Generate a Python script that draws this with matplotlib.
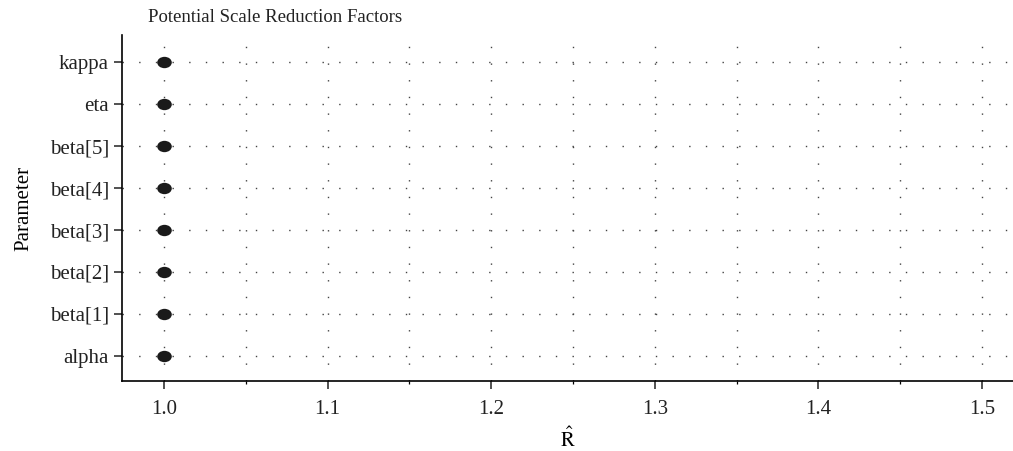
import numpy as np
import matplotlib.pyplot as plt
from matplotlib.path import Path
from matplotlib.ticker import MultipleLocator

# parameter names and their potential scale reduction factors
params = ["alpha", "beta[1]", "beta[2]", "beta[3]", "beta[4]", "beta[5]", "eta", "kappa"]
rhat = [1.000, 1.000, 1.000, 1.000, 1.000, 1.000, 1.000, 1.000]

plt.rcParams['font.family'] = ['Liberation Serif', 'DejaVu Serif']
plt.rcParams['mathtext.fontset'] = 'stix'

fig = plt.figure(figsize=(10.13, 4.51), dpi=100)
ax = fig.add_axes([122/1013, 70/451, 891/1013, 346/451])

ypos = np.arange(len(params))

# dotted reference grid
ax.xaxis.set_major_locator(MultipleLocator(0.1))
ax.xaxis.set_minor_locator(MultipleLocator(0.05))
ax.grid(True, which='both', axis='x', color='#444444', linestyle=(0, (1, 11)), linewidth=1.0)
for y in ypos:
    ax.axhline(y, color='#444444', linestyle=(0, (1, 11)), linewidth=1.0, zorder=1)

# slightly flattened dot marker
circ = Path.unit_circle()
oval = Path(circ.vertices * np.array([1.0, 0.78]), circ.codes)
ax.scatter(rhat, ypos, s=110, color='#1a1a1a', zorder=3, marker=oval, linewidths=0)

ax.set_xlim(0.9743, 1.519)
ax.set_ylim(-0.6, 7.65)
ax.set_yticks(ypos)
ax.set_yticklabels(params)
ax.xaxis.set_major_formatter(plt.FuncFormatter(lambda v, p: "%.1f" % v))

for s in ['top', 'right']:
    ax.spines[s].set_visible(False)
ax.spines['left'].set_linewidth(1.2)
ax.spines['bottom'].set_linewidth(1.2)

ax.tick_params(axis='both', which='major', labelsize=15, length=6, width=1.1,
               colors='#222222')
ax.tick_params(axis='x', which='minor', length=2, width=0.9)
ax.tick_params(axis='x', pad=8)

ax.set_xlabel(r"$\hat{\mathrm{R}}$", fontsize=15, labelpad=6)
ax.set_ylabel("Parameter", fontsize=15, labelpad=12)
fig.text(148/1013, 1 - 18/451, "Potential Scale Reduction Factors", fontsize=13.5,
         va='center', ha='left', color='#222222')

fig.savefig("out.png", dpi=100)
